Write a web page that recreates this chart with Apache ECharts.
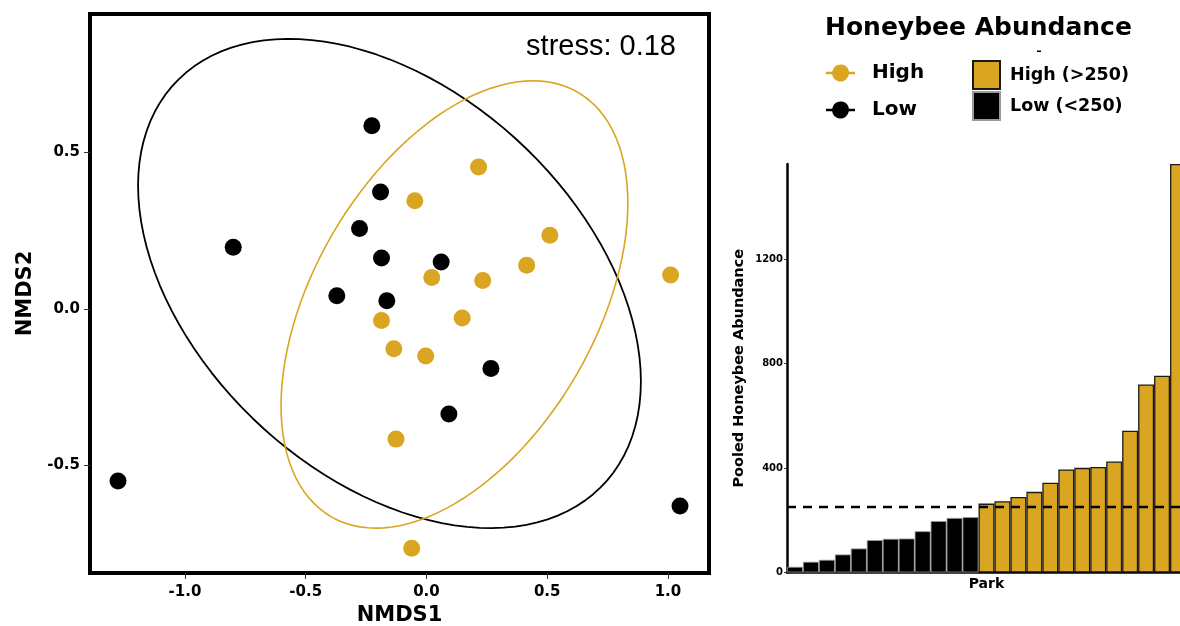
<!DOCTYPE html>
<html>
<head>
<meta charset="utf-8">
<script src="https://cdn.jsdelivr.net/npm/echarts@6/dist/echarts.min.js"></script>
<style>
html,body{margin:0;padding:0;background:#fff;}
#chart{width:1180px;height:626px;}
</style>
</head>
<body>
<div id="chart"></div>
<script>
// ---- NMDS ordination (left panel) ----
const highX = [0.216, -0.048, 0.511, 0.415, 1.011, 0.022, 0.233, 0.148, -0.186, -0.135, -0.003, -0.126, -0.061];
const highY = [0.454, 0.346, 0.236, 0.140, 0.109, 0.101, 0.091, -0.029, -0.037, -0.127, -0.150, -0.416, -0.765];
const lowX  = [-0.226, -0.190, -0.800, -0.277, -0.186, 0.061, -0.371, -0.164, 0.267, 0.093, -1.277, 1.050];
const lowY  = [0.586, 0.374, 0.197, 0.257, 0.163, 0.150, 0.042, 0.026, -0.190, -0.336, -0.550, -0.630];
// ellipse: [centerX, centerY, halfWidthX, halfHeightY, correlation]
const ellipseHigh = [0.116, 0.0144, 0.718, 0.715, 0.453];
const ellipseLow  = [-0.153, 0.0815, 1.041, 0.782, -0.40];
const nmdsTicksX = [-1.0, -0.5, 0.0, 0.5, 1.0];
const nmdsTicksY = [-0.5, 0.0, 0.5];
const stressLabel = 'stress: 0.18';

// ---- Pooled abundance per park (right panel) ----
const parkAbundance = [21.7, 41, 48.5, 69, 92, 124, 129, 130, 158, 197, 209, 212,
                       264, 273, 289, 309, 344, 395, 401, 404, 425, 543, 720, 754, 1565];
const threshold = 250;
const abundanceTicks = [0, 400, 800, 1200];

const GOLD = '#DAA520';
const BOLD = {fontFamily: 'DejaVu Sans', fontWeight: 'bold', color: '#000'};

function ellipsePoints(p) {
  const [cx, cy, rx, ry, r] = p;
  const phi = Math.acos(r);
  const pts = [];
  const n = 120;
  for (let i = 0; i <= n; i++) {
    const t = 2 * Math.PI * i / n;
    pts.push([cx + rx * Math.cos(t), cy + ry * Math.cos(t - phi)]);
  }
  return pts;
}
const zip = (a, b) => a.map((v, i) => [v, b[i]]);

const parks = parkAbundance.map((_, i) => 'P' + (i + 1));
const lowBars = parkAbundance.map(v => v <= threshold ? v : '-');
const highBars = parkAbundance.map(v => v > threshold ? v : '-');

const legendIcon = 'path://M0 7.15 H6.11 A8.5 8.5 0 0 1 22.89 7.15 H29 V9.85 H22.89 A8.5 8.5 0 0 1 6.11 9.85 H0 Z';

const chart = echarts.init(document.getElementById('chart'), null, {renderer: 'canvas'});
chart.setOption({
  animation: false,
  backgroundColor: '#fff',
  grid: [
    {left: 90, top: 14, width: 619, height: 559, show: true, borderColor: '#000', borderWidth: 4,
     backgroundColor: 'transparent', outerBoundsMode: 'none', containLabel: false},
    {left: 787, top: 164, width: 399, height: 408.5, outerBoundsMode: 'none', containLabel: false}
  ],
  xAxis: [
    {
      gridIndex: 0, type: 'value', min: -1.393, max: 1.170,
      name: 'NMDS1', nameLocation: 'middle', nameGap: 30,
      nameTextStyle: Object.assign({fontSize: 21}, BOLD),
      axisLine: {show: false, onZero: false},
      axisTick: {show: true, length: 6, lineStyle: {color: '#333', width: 1}, customValues: nmdsTicksX},
      axisLabel: Object.assign({fontSize: 15, margin: 12, customValues: nmdsTicksX, formatter: v => v.toFixed(1)}, BOLD),
      splitLine: {show: false}
    },
    {
      gridIndex: 1, type: 'category', data: parks,
      name: 'Park', nameLocation: 'middle', nameGap: 5,
      nameTextStyle: Object.assign({fontSize: 14}, BOLD),
      axisLine: {show: true, onZero: false, lineStyle: {color: '#000', width: 2.5}},
      axisTick: {show: false}, axisLabel: {show: false}, splitLine: {show: false}
    }
  ],
  yAxis: [
    {
      gridIndex: 0, type: 'value', min: -0.844, max: 0.943,
      name: 'NMDS2', nameLocation: 'middle', nameGap: 50,
      nameTextStyle: Object.assign({fontSize: 21}, BOLD),
      axisLine: {show: false, onZero: false},
      axisTick: {show: true, length: 6, lineStyle: {color: '#333', width: 1}, customValues: nmdsTicksY},
      axisLabel: Object.assign({fontSize: 15, margin: 10, customValues: nmdsTicksY, formatter: v => v.toFixed(1)}, BOLD),
      splitLine: {show: false}
    },
    {
      gridIndex: 1, type: 'value', min: 0, max: 1565,
      name: 'Pooled Honeybee Abundance', nameLocation: 'middle', nameGap: 40,
      nameTextStyle: Object.assign({fontSize: 14.5}, BOLD),
      axisLine: {show: true, onZero: false, lineStyle: {color: '#000', width: 2.5}},
      axisTick: {show: true, length: 3, lineStyle: {color: '#333', width: 1}, customValues: abundanceTicks},
      axisLabel: Object.assign({fontSize: 10, margin: 4, customValues: abundanceTicks, formatter: v => String(v)}, BOLD),
      splitLine: {show: false}
    }
  ],
  legend: [
    {
      data: ['High', 'Low'], orient: 'vertical', left: 826, top: 63, padding: 0,
      icon: legendIcon, itemWidth: 29, itemHeight: 17, itemGap: 17,
      textStyle: Object.assign({fontSize: 20, padding: [0, 0, 0, 12]}, BOLD),
      selectedMode: false
    },
    {
      data: ['High (>250)', 'Low (<250)'], orient: 'vertical', left: 972, top: 60, padding: 0,
      itemWidth: 27, itemHeight: 28, itemGap: 1, icon: 'rect',
      textStyle: Object.assign({fontSize: 17.5, padding: [0, 0, 0, 5]}, BOLD),
      selectedMode: false
    }
  ],
  graphic: [
    {type: 'text', left: 825, top: 16, style: {text: 'Honeybee Abundance', font: 'bold 25px "DejaVu Sans"', fill: '#000'}},
    {type: 'rect', left: 1037, top: 50.5, shape: {width: 4, height: 1.5}, style: {fill: '#000'}},
    {type: 'text', right: 1180 - 676, top: 32, style: {text: stressLabel, font: '29px "Liberation Sans"', fill: '#000'}}
  ],
  series: [
    {
      name: 'Low ellipse', type: 'line', xAxisIndex: 0, yAxisIndex: 0,
      data: ellipsePoints(ellipseLow), showSymbol: false, symbol: 'none', smooth: false,
      lineStyle: {color: '#000', width: 1.8}, silent: true, z: 2
    },
    {
      name: 'High ellipse', type: 'line', xAxisIndex: 0, yAxisIndex: 0,
      data: ellipsePoints(ellipseHigh), showSymbol: false, symbol: 'none', smooth: false,
      lineStyle: {color: GOLD, width: 1.6}, silent: true, z: 2
    },
    {
      name: 'High', type: 'scatter', xAxisIndex: 0, yAxisIndex: 0,
      data: zip(highX, highY), symbol: 'circle', symbolSize: 17,
      itemStyle: {color: GOLD, opacity: 1}, z: 3
    },
    {
      name: 'Low', type: 'scatter', xAxisIndex: 0, yAxisIndex: 0,
      data: zip(lowX, lowY), symbol: 'circle', symbolSize: 17,
      itemStyle: {color: '#000', opacity: 1}, z: 3
    },
    {
      name: 'Low (<250)', type: 'bar', xAxisIndex: 1, yAxisIndex: 1,
      data: lowBars, barGap: '-100%', barCategoryGap: '0%',
      itemStyle: {color: '#000', borderColor: '#9a9a9a', borderWidth: 0.8}
    },
    {
      name: 'High (>250)', type: 'bar', xAxisIndex: 1, yAxisIndex: 1,
      data: highBars, barGap: '-100%', barCategoryGap: '0%',
      itemStyle: {color: GOLD, borderColor: '#1a1a1a', borderWidth: 1.3},
      markLine: {
        silent: true, symbol: 'none', label: {show: false},
        lineStyle: {color: '#000', width: 2.4, type: [9, 7]},
        data: [{yAxis: threshold}]
      }
    }
  ]
});
</script>
</body>
</html>
